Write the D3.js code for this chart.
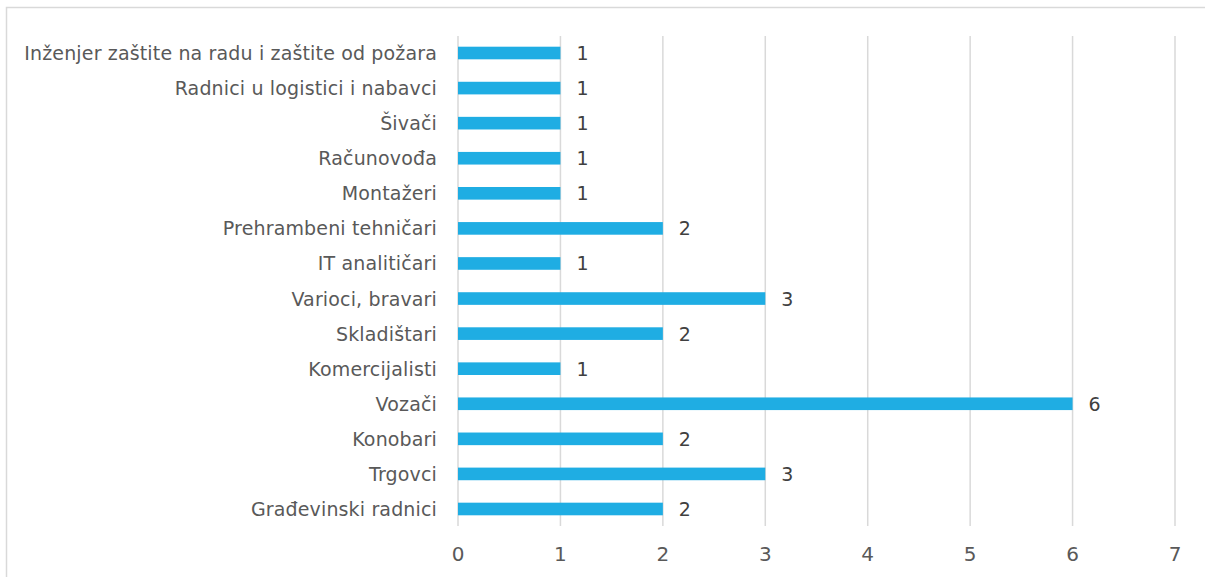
<!DOCTYPE html>
<html>
<head>
<meta charset="utf-8">
<script src="https://cdn.jsdelivr.net/npm/d3@7"></script>
<style>
  html, body { margin: 0; padding: 0; background: #fff; }
  svg { display: block; }
</style>
</head>
<body>
<svg id="chart"></svg>
<script>
const categories = [
  "Inženjer zaštite na radu i zaštite od požara",
  "Radnici u logistici i nabavci",
  "Šivači",
  "Računovođa",
  "Montažeri",
  "Prehrambeni tehničari",
  "IT analitičari",
  "Varioci, bravari",
  "Skladištari",
  "Komercijalisti",
  "Vozači",
  "Konobari",
  "Trgovci",
  "Građevinski radnici"
];
const values = [1, 1, 1, 1, 1, 2, 1, 3, 2, 1, 6, 2, 3, 2];
const xTicks = [0, 1, 2, 3, 4, 5, 6, 7];

const width = 1205, height = 577;
const font = "'Century Gothic', 'URW Gothic', 'DejaVu Sans', sans-serif";

const svg = d3.select("#chart")
    .attr("width", width)
    .attr("height", height);

// chart frame (only top/left are inside the shot)
svg.append("rect")
    .attr("x", 6.5).attr("y", 7.5)
    .attr("width", 1220).attr("height", 600)
    .attr("fill", "none")
    .attr("stroke", "#d9d9d9")
    .attr("stroke-width", 1.5);

const x = d3.scaleLinear().domain([0, 7]).range([458, 1175]);
const y = d3.scaleBand().domain(categories).range([36, 526]).paddingInner(0.64).paddingOuter(0.305);

// gridlines
svg.append("g")
    .selectAll("line")
    .data(xTicks)
    .join("line")
    .attr("x1", d => x(d)).attr("x2", d => x(d))
    .attr("y1", 36).attr("y2", 526)
    .attr("stroke", "#d9d9d9")
    .attr("stroke-width", 1.5);

// bars
svg.append("g")
    .selectAll("rect")
    .data(values)
    .join("rect")
    .attr("x", x(0))
    .attr("y", (d, i) => y(categories[i]))
    .attr("width", d => x(d) - x(0))
    .attr("height", y.bandwidth())
    .attr("fill", "#1fade3");

// value labels
svg.append("g")
    .selectAll("text")
    .data(values)
    .join("text")
    .attr("x", d => x(d) + 16)
    .attr("y", (d, i) => y(categories[i]) + y.bandwidth() / 2)
    .attr("dy", "0.37em")
    .attr("font-family", font)
    .attr("font-size", 19)
    .attr("fill", "#404040")
    .text(d => d);

// category labels
svg.append("g")
    .selectAll("text")
    .data(categories)
    .join("text")
    .attr("x", 437)
    .attr("y", d => y(d) + y.bandwidth() / 2)
    .attr("dy", "0.37em")
    .attr("text-anchor", "end")
    .attr("font-family", font)
    .attr("font-size", 19)
    .attr("letter-spacing", 0.15)
    .attr("fill", "#595959")
    .text(d => d);

// x tick labels
svg.append("g")
    .selectAll("text")
    .data(xTicks)
    .join("text")
    .attr("x", d => x(d))
    .attr("y", 553.5)
    .attr("dy", "0.37em")
    .attr("text-anchor", "middle")
    .attr("font-family", font)
    .attr("font-size", 20)
    .attr("fill", "#595959")
    .text(d => d);
</script>
</body>
</html>
